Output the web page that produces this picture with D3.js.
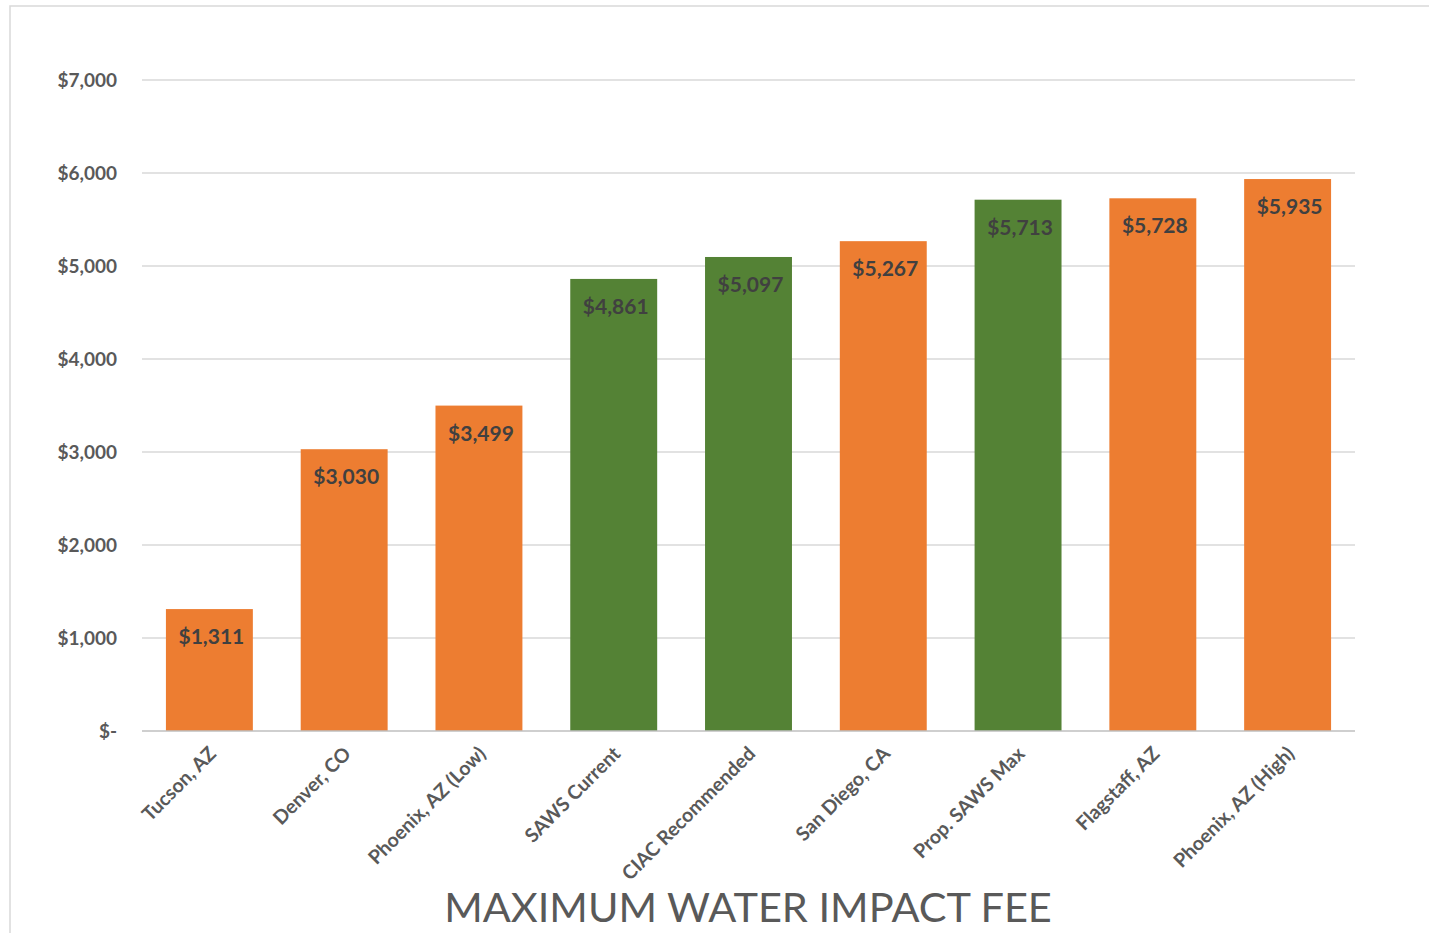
<!DOCTYPE html>
<html><head><meta charset="utf-8">
<script src="https://cdn.jsdelivr.net/npm/d3@7"></script>
<style>body{margin:0;background:#fff;} svg{display:block;}</style>
</head><body>
<svg id="chart" width="1429" height="933"></svg>
<script>
const categories = ["Tucson, AZ","Denver, CO","Phoenix, AZ (Low)","SAWS Current","CIAC Recommended","San Diego, CA","Prop. SAWS Max","Flagstaff, AZ","Phoenix, AZ (High)"];
const values = [1311,3030,3499,4861,5097,5267,5713,5728,5935];
const groups = ["other","other","other","saws","saws","other","saws","other","other"];
const yTicks = [0,1000,2000,3000,4000,5000,6000,7000];
const title = "MAXIMUM WATER IMPACT FEE";

(function(){
const svg = d3.select("#chart");
const font = "Lato, 'Open Sans', sans-serif";
const W = 1429, H = 933;
const mLeft = 142, mRight = 1355, mTop = 80, mBottom = 731;

// frame
svg.append("rect").attr("x",10).attr("y",6).attr("width",W+20).attr("height",H+20)
  .attr("fill","none").attr("stroke","#d9d9d9").attr("stroke-width",1.5);

const x = d3.scaleBand().domain(categories).range([mLeft,mRight]).paddingInner(0.355).paddingOuter(0.1775);
const y = d3.scaleLinear().domain([0,7000]).range([mBottom,mTop]);
const color = d3.scaleOrdinal().domain(["other","saws"]).range(["#ED7D31","#548235"]);

// gridlines
svg.append("g").selectAll("line").data(yTicks.filter(d=>d>0)).join("line")
  .attr("x1",mLeft).attr("x2",mRight).attr("y1",d=>y(d)).attr("y2",d=>y(d))
  .attr("stroke","#d9d9d9").attr("stroke-width",1.3);

// y axis labels
const yAxis = d3.axisLeft(y).tickValues(yTicks).tickSize(0).tickPadding(0)
  .tickFormat(d=> d===0 ? "$-" : "$"+d3.format(",")(d));
const ya = svg.append("g").attr("transform",`translate(117,0)`).call(yAxis);
ya.select(".domain").remove();
ya.selectAll("text").attr("font-family",font).attr("font-size",19).attr("font-weight","bold").attr("fill","#595959");

// bars
const data = categories.map((c,i)=>({c, v:values[i], g:groups[i]}));
svg.append("g").selectAll("rect").data(data).join("rect")
  .attr("x",d=>x(d.c)).attr("width",x.bandwidth())
  .attr("y",d=>y(d.v)).attr("height",d=>y(0)-y(d.v))
  .attr("fill",d=>color(d.g));

// baseline axis
const xAxis = d3.axisBottom(x).tickSize(0).tickPadding(0);
const xa = svg.append("g").attr("transform",`translate(0,${mBottom})`).call(xAxis);
xa.select(".domain").attr("d",`M${mLeft},0H${mRight}`).attr("stroke","#bfbfbf").attr("stroke-width",1.5);
xa.selectAll("text").attr("font-family",font).attr("font-size",19.5).attr("font-weight","bold").attr("fill","#595959")
  .attr("text-anchor","end").attr("dy",0).attr("y",0)
  .attr("transform","translate(8,24) rotate(-45)");

// data labels
svg.append("g").selectAll("text").data(data).join("text")
  .attr("x",d=>x(d.c)+x.bandwidth()/2+2).attr("y",d=>y(d.v)+35)
  .attr("text-anchor","middle").attr("font-family",font).attr("font-size",21).attr("font-weight","bold")
  .attr("fill","#404040").text(d=>"$"+d3.format(",")(d.v));

// title
svg.append("text").attr("x",748).attr("y",922).attr("text-anchor","middle")
  .attr("font-family",font).attr("font-size",41.5).attr("fill","#595959").text(title);
})();
</script>
</body></html>
